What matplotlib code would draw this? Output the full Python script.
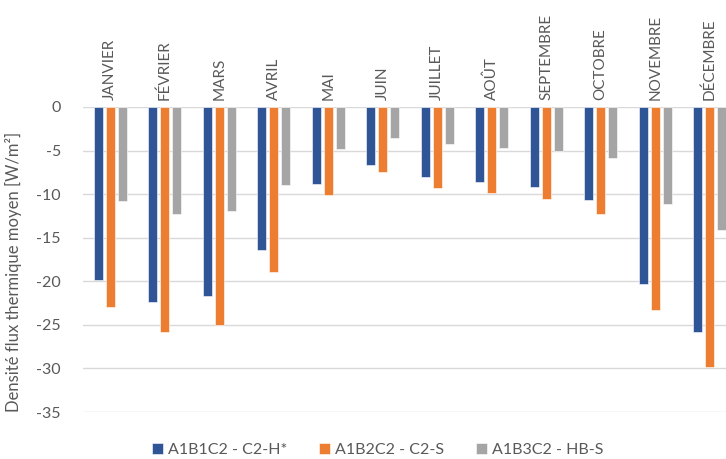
import numpy as np
import matplotlib.pyplot as plt

mois = ["JANVIER", "FÉVRIER", "MARS", "AVRIL", "MAI", "JUIN", "JUILLET",
        "AOÛT", "SEPTEMBRE", "OCTOBRE", "NOVEMBRE", "DÉCEMBRE"]

# densité de flux moyenne par mois [W/m²]
c2_h = [-19.8, -22.4, -21.7, -16.4, -8.85, -6.6, -8.0, -8.6, -9.2, -10.7, -20.3, -25.8]
c2_s = [-22.9, -25.8, -25.0, -18.9, -10.1, -7.5, -9.3, -9.9, -10.6, -12.25, -23.35, -29.85]
hb_s = [-10.8, -12.25, -11.9, -8.95, -4.8, -3.6, -4.3, -4.7, -5.0, -5.9, -11.1, -14.1]

series = [
    ("A1B1C2 - C2-H*", c2_h, "#2f5597"),
    ("A1B2C2 - C2-S", c2_s, "#ed7d31"),
    ("A1B3C2 - HB-S", hb_s, "#a5a5a5"),
]

plt.rcParams["font.family"] = ["Lato", "DejaVu Sans"]
plt.rcParams["axes.unicode_minus"] = False
txt = "#595959"

fig = plt.figure(figsize=(7.26, 4.59), dpi=100)
ax = fig.add_axes([83 / 726, 1 - 412 / 459, 643 / 726, 305 / 459])

x = np.arange(len(mois))
w = 0.165
for k, (nom, vals, col) in enumerate(series):
    ax.bar(x + (k - 1) * 0.22, vals, w, color=col, label=nom,
           edgecolor="white", linewidth=0.4, zorder=3)

ax.set_ylim(-35, 0)
ax.set_xlim(-0.5, 11.3)
ax.set_yticks(np.arange(-35, 1, 5))
ax.yaxis.grid(True, color="#d9d9d9", linewidth=1)
ax.set_axisbelow(True)
for s in ax.spines.values():
    s.set_visible(False)

ax.xaxis.tick_top()
ax.set_xticks(x)
ax.set_xticklabels(mois, rotation=90, fontsize=11, color=txt)
ax.tick_params(axis="x", length=0, pad=5)
ax.tick_params(axis="y", length=0, pad=16, labelsize=11.5, labelcolor=txt)

ax.set_ylabel("Densité flux thermique moyen [W/m²]", fontsize=12, color=txt)
ax.yaxis.set_label_coords(-0.095, 0.46)

fig.legend(loc="center", bbox_to_anchor=(0.52, 0.02), ncol=3, frameon=False,
           fontsize=11.5, labelcolor=txt, handlelength=0.7, handleheight=0.7,
           handletextpad=0.3, columnspacing=2.0)

fig.savefig("out.png", dpi=100)
